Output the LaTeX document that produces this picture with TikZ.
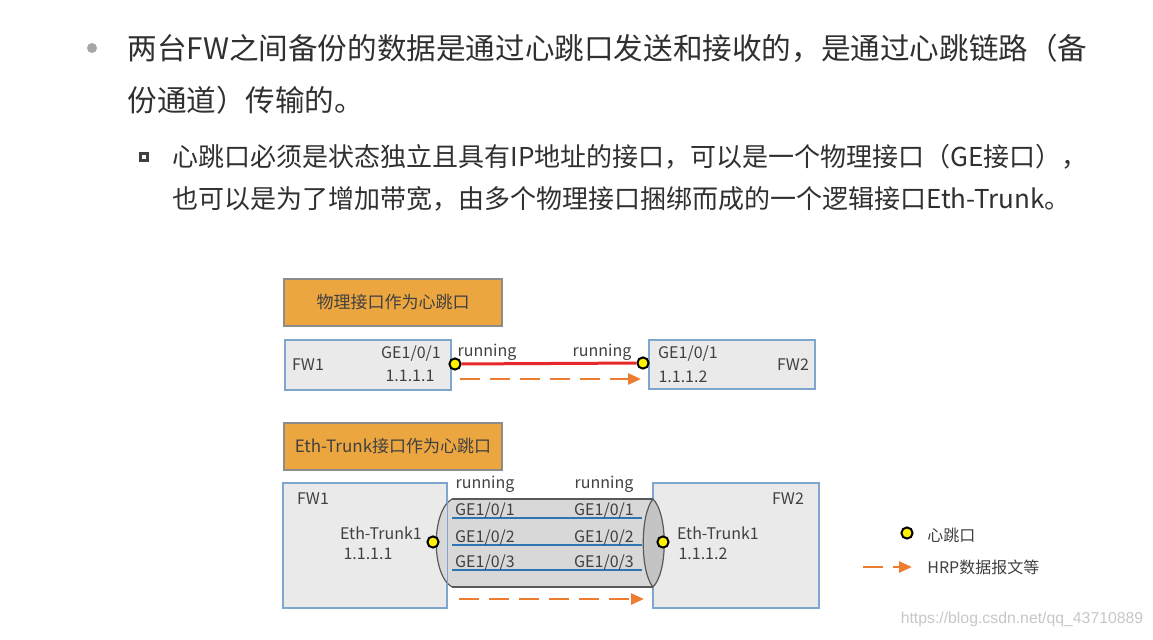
\documentclass[tikz,border=0pt]{standalone}
\usepackage{fontspec}
\setmainfont{Noto Sans CJK SC}
\newfontfamily\urlfont{Liberation Sans}
\usetikzlibrary{arrows.meta}
\definecolor{hb_orange}{RGB}{236,166,64}
\definecolor{hb_box}{RGB}{234,234,234}
\definecolor{hb_edge}{RGB}{126,166,206}
\definecolor{hb_red}{RGB}{232,40,40}
\definecolor{hb_arrow}{RGB}{237,125,49}
\definecolor{hb_blue}{RGB}{46,117,182}
\definecolor{hb_tube}{RGB}{216,216,216}
\definecolor{hb_lens}{RGB}{196,196,196}
\definecolor{hb_text}{RGB}{64,64,64}
\definecolor{hb_main}{RGB}{48,48,48}
\tikzstyle{tb}=[rectangle,fill=hb_orange,draw=black!45,line width=0.6pt,
  minimum width=109pt,minimum height=23.5pt,text=hb_text,font=\fontsize{8.5pt}{10pt}\selectfont]
\tikzstyle{fw}=[rectangle,fill=hb_box,draw=hb_edge,line width=0.7pt,minimum width=83pt]
\tikzstyle{hp}=[circle,fill=yellow,draw=black,line width=1pt,minimum size=5.6pt,inner sep=0pt]
\tikzstyle{lb}=[inner sep=0pt,text=hb_text,font=\fontsize{8pt}{9.6pt}\selectfont]
\tikzstyle{mt}=[inner sep=0pt,anchor=west,text=hb_main]
\tikzstyle{hrp}=[draw=hb_arrow,line width=1.3pt,dash pattern=on 10pt off 5pt,
  -{Triangle[length=6.5pt,width=5.5pt]}]
\tikzstyle{ge}=[draw=hb_blue,line width=1pt]
\tikzstyle{tl}=[draw=black!65,line width=0.6pt]

\begin{document}
\begin{tikzpicture}[x=0.5pt,y=-0.5pt]
        \useasboundingbox (0,0) rectangle (1153,639);
        % text above the figure
        \node [circle,fill=black!35,inner sep=0pt,minimum size=5pt] (b1) at (92,48) {};
        \node [style=mt,font=\fontsize{14.8pt}{18pt}\selectfont] (t1) at (127,48) {两台FW之间备份的数据是通过心跳口发送和接收的，是通过心跳链路（备};
        \node [style=mt,font=\fontsize{14.8pt}{18pt}\selectfont] (t2) at (127,100) {份通道）传输的。};
        \node [rectangle,draw=black!75,fill=white,line width=1.1pt,inner sep=0pt,minimum size=3.5pt] (b2) at (144,157) {};
        \node [style=mt,font=\fontsize{13pt}{16pt}\selectfont] (t3) at (172,157) {心跳口必须是状态独立且具有IP地址的接口，可以是一个物理接口（GE接口），};
        \node [style=mt,font=\fontsize{13pt}{16pt}\selectfont] (t4) at (172,199) {也可以是为了增加带宽，由多个物理接口捆绑而成的一个逻辑接口Eth-Trunk。};
        % physical port
        \node [style=tb] (pt) at (393,302.5) {物理接口作为心跳口};
        \node [style=fw,minimum height=25pt] (fw1a) at (368,365) {};
        \node [style=fw,minimum height=24.5pt] (fw2a) at (732,364.5) {};
        \node [style=lb] (n1a) at (308,365) {FW1};
        \node [style=lb] (g1a) at (411,354) {GE1/0/1};
        \node [style=lb] (i1a) at (410,376) {1.1.1.1};
        \node [style=lb] (n2a) at (793,365) {FW2};
        \node [style=lb] (g2a) at (688,354) {GE1/0/1};
        \node [style=lb] (i2a) at (683,377) {1.1.1.2};
        \node [style=lb] (r1a) at (487,352) {running};
        \node [style=lb] (r2a) at (602,352) {running};
        \node [style=hp] (p1a) at (455,364) {};
        \node [style=hp] (p2a) at (643,363) {};
        \coordinate (a1s) at (460,379);
        \coordinate (a1e) at (641,379);
        \draw [draw=hb_red,line width=1.5pt] (p1a) to (p2a);
        \draw [style=hrp] (a1s) to (a1e);
        % eth-trunk
        \node [style=tb] (et) at (393,446.5) {Eth-Trunk接口作为心跳口};
        \node [style=fw,minimum width=82pt,minimum height=62.5pt] (fw1b) at (365,545.5) {};
        \node [style=fw,minimum height=62.5pt] (fw2b) at (736,545.5) {};
        \fill [hb_tube] (452,499) -- (653,499) .. controls (640,514) and (640,572) .. (653,587)
              -- (452,587) .. controls (431,575) and (431,511) .. (452,499);
        \fill [hb_lens] (653,499) .. controls (640,514) and (640,572) .. (653,587)
              .. controls (668,572) and (668,514) .. (653,499);
        \draw [style=tl] (452,499) -- (653,499);
        \draw [style=tl] (452,587) -- (653,587);
        \draw [style=tl] (452,499) .. controls (431,511) and (431,575) .. (452,587);
        \draw [style=tl] (653,499) .. controls (640,514) and (640,572) .. (653,587);
        \draw [style=tl] (653,499) .. controls (668,514) and (668,572) .. (653,587);
        \draw [draw=hb_edge,line width=0.7pt] (fw1b.north east) -- (fw1b.south east);
        \node [style=lb] (n1b) at (313,499) {FW1};
        \node [style=lb] (e1b) at (381,533) {Eth-Trunk1};
        \node [style=lb] (i1b) at (368,554) {1.1.1.1};
        \node [style=lb] (n2b) at (788,499) {FW2};
        \node [style=lb] (e2b) at (718,533) {Eth-Trunk1};
        \node [style=lb] (i2b) at (703,554) {1.1.1.2};
        \node [style=lb] (r1b) at (485,484) {running};
        \node [style=lb] (r2b) at (604,484) {running};
        \foreach \k/\y in {1/518,2/545,3/570} {
          \coordinate (m\k s) at (452,\y);
          \coordinate (m\k e) at (642,\y);
          \draw [style=ge] (m\k s) to (m\k e);
          \node [style=lb] (gl\k) at (485,\y-7) {GE1/0/\k};
          \node [style=lb] (gr\k) at (604,\y-7) {GE1/0/\k};
        }
        \node [style=hp] (p1b) at (433,542) {};
        \node [style=hp] (p2b) at (663,542) {};
        \coordinate (a2s) at (459,599);
        \coordinate (a2e) at (644,599);
        \draw [style=hrp] (a2s) to (a2e);
        % legend
        \node [style=hp] (lgp) at (907,533) {};
        \node [style=lb,anchor=west] (lgpt) at (927,535) {心跳口};
        \coordinate (lgs) at (863,567);
        \coordinate (lge) at (912,567);
        \draw [style=hrp] (lgs) to (lge);
        \node [style=lb,anchor=west] (lgat) at (927,567) {HRP数据报文等};
        \node [inner sep=0pt,text=black!22,font=\urlfont\fontsize{7.9pt}{9pt}\selectfont] (wm) at (1022,619) {https://blog.csdn.net/qq\_43710889};
    \end{tikzpicture}
\end{document}
